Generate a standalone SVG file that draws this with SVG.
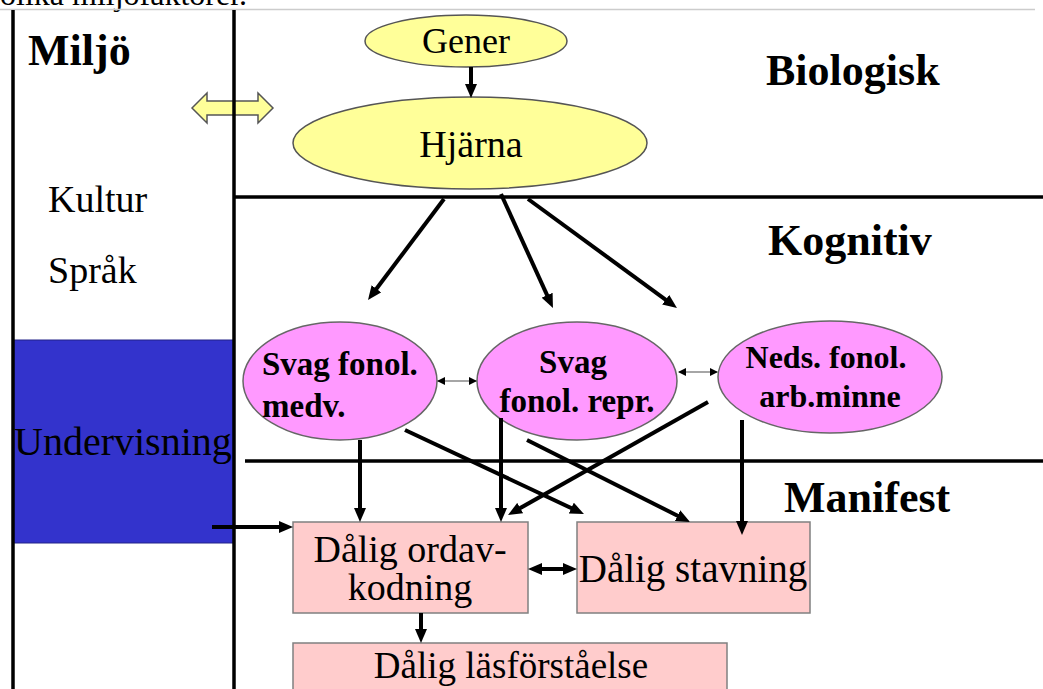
<svg xmlns="http://www.w3.org/2000/svg" width="1043" height="689" viewBox="0 0 1043 689">
<style>
text{font-family:"Liberation Serif","Times New Roman",serif;fill:#000}
.h{font-weight:bold;font-size:44px}
.b{font-weight:bold;font-size:33px}
.r{font-size:38px}
.frame{stroke:#000;stroke-width:3.5;fill:none}
.arr{stroke:#000;stroke-width:4;fill:none}
.thin{stroke:#888;stroke-width:1.5;fill:none}
.yel{fill:#FFFF99;stroke:#555;stroke-width:1.5}
.pink{fill:#FF99FF;stroke:#666;stroke-width:1.5}
.box{fill:#FFCCCC;stroke:#808080;stroke-width:1.5}
</style>
<defs>
<marker id="ah" viewBox="0 0 14 12" refX="4" refY="6" markerWidth="14" markerHeight="12" markerUnits="userSpaceOnUse" orient="auto-start-reverse">
<path d="M0,0 L14,6 L0,12 z" fill="#000"/>
</marker>
<marker id="sm" viewBox="0 0 8 8" refX="7" refY="4" markerWidth="8" markerHeight="8" markerUnits="userSpaceOnUse" orient="auto-start-reverse">
<path d="M0,0 L8,4 L0,8 z" fill="#000"/>
</marker>
</defs>
<rect x="0" y="0" width="1043" height="689" fill="#fff"/>
<text x="0" y="5" style="font-size:32px">olika miljöfaktorer.</text>
<line x1="0" y1="9.5" x2="1035" y2="9.5" stroke="#ccc" stroke-width="1.5"/>

<g id="undervisning">
<rect x="13" y="340" width="221" height="203" fill="#3333CC" stroke="#222288" stroke-width="1"/>
<text x="14" y="455" style="font-size:40px">Undervisning</text>
</g>

<g id="miljo-arrow">
<polygon class="yel" points="192,108 207,93 207,101 258,101 258,93 273,108 258,123 258,115 207,115 207,123"/>
</g>

<g id="frame">
<line class="frame" x1="13" y1="10" x2="13" y2="689"/>
<line class="frame" x1="234" y1="10" x2="234" y2="689"/>
<line class="frame" x1="234" y1="197" x2="1043" y2="197"/>
<line class="frame" x1="245" y1="461" x2="1043" y2="461"/>
</g>

<g id="labels">
<text class="h" x="28" y="65">Miljö</text>
<text class="r" x="48" y="212">Kultur</text>
<text class="r" x="48" y="283">Språk</text>
<text class="h" x="766" y="85">Biologisk</text>
<text class="h" x="768" y="255">Kognitiv</text>
<text class="h" x="784" y="512">Manifest</text>
</g>

<g id="gener">
<ellipse class="yel" cx="466" cy="41" rx="101" ry="26"/>
<text x="466" y="53" text-anchor="middle" style="font-size:36px">Gener</text>
</g>
<g id="hjarna">
<ellipse class="yel" cx="470" cy="143" rx="177" ry="46"/>
<text x="471" y="157" text-anchor="middle" class="r">Hjärna</text>
</g>

<g id="e1">
<ellipse class="pink" cx="340" cy="381" rx="97" ry="59"/>
<text class="b" x="262" y="375">Svag fonol.</text>
<text class="b" x="262" y="417">medv.</text>
</g>
<g id="e2">
<ellipse class="pink" cx="577" cy="381" rx="100" ry="59"/>
<text class="b" x="573" y="373" text-anchor="middle">Svag</text>
<text class="b" x="577" y="412" text-anchor="middle">fonol. repr.</text>
</g>
<g id="e3">
<ellipse class="pink" cx="830" cy="377" rx="112" ry="56"/>
<text class="b" x="826" y="368" text-anchor="middle" style="font-size:32px">Neds. fonol.</text>
<text class="b" x="830" y="407" text-anchor="middle" style="font-size:32px">arb.minne</text>
</g>

<g id="ordav">
<rect class="box" x="293" y="522" width="235" height="91"/>
<text class="r" x="410" y="562" text-anchor="middle">Dålig ordav-</text>
<text class="r" x="410" y="600" text-anchor="middle">kodning</text>
</g>
<g id="stavning">
<rect class="box" x="577" y="522" width="233" height="91"/>
<text class="r" x="693" y="582" text-anchor="middle" style="font-size:39px">Dålig stavning</text>
</g>
<g id="lasforstaelse">
<rect class="box" x="293" y="643" width="434" height="60"/>
<text x="511" y="678" text-anchor="middle" style="font-size:37px">Dålig läsförståelse</text>
</g>

<g id="connectors">
<line class="arr" x1="471" y1="67" x2="471" y2="88" marker-end="url(#ah)"/>
<line class="arr" x1="444" y1="199" x2="374" y2="292" marker-end="url(#ah)"/>
<line class="arr" x1="501" y1="194" x2="548.8" y2="298.9" marker-end="url(#ah)"/>
<line class="arr" x1="528" y1="199" x2="668.9" y2="302.1" marker-end="url(#ah)"/>
<line class="thin" x1="438" y1="381" x2="476" y2="381" marker-start="url(#sm)" marker-end="url(#sm)"/>
<line class="thin" x1="679" y1="372" x2="717" y2="372" marker-start="url(#sm)" marker-end="url(#sm)"/>
<line class="arr" x1="360" y1="440" x2="360" y2="512" marker-end="url(#ah)"/>
<line class="arr" x1="501" y1="418" x2="501" y2="512" marker-end="url(#ah)"/>
<line class="arr" x1="405" y1="430" x2="574.9" y2="509.8" marker-end="url(#ah)"/>
<line class="arr" x1="527" y1="440" x2="681.1" y2="517.5" marker-end="url(#ah)"/>
<line class="arr" x1="708" y1="402" x2="516.7" y2="510.1" marker-end="url(#ah)"/>
<line class="arr" x1="742" y1="420" x2="742" y2="525" marker-end="url(#ah)"/>
<line class="arr" x1="212" y1="527" x2="283" y2="527" marker-end="url(#ah)"/>
<line class="arr" x1="421" y1="613" x2="421" y2="633" marker-end="url(#ah)"/>
<line class="arr" x1="538" y1="569" x2="567" y2="569" marker-start="url(#ah)" marker-end="url(#ah)"/>
</g>
</svg>
